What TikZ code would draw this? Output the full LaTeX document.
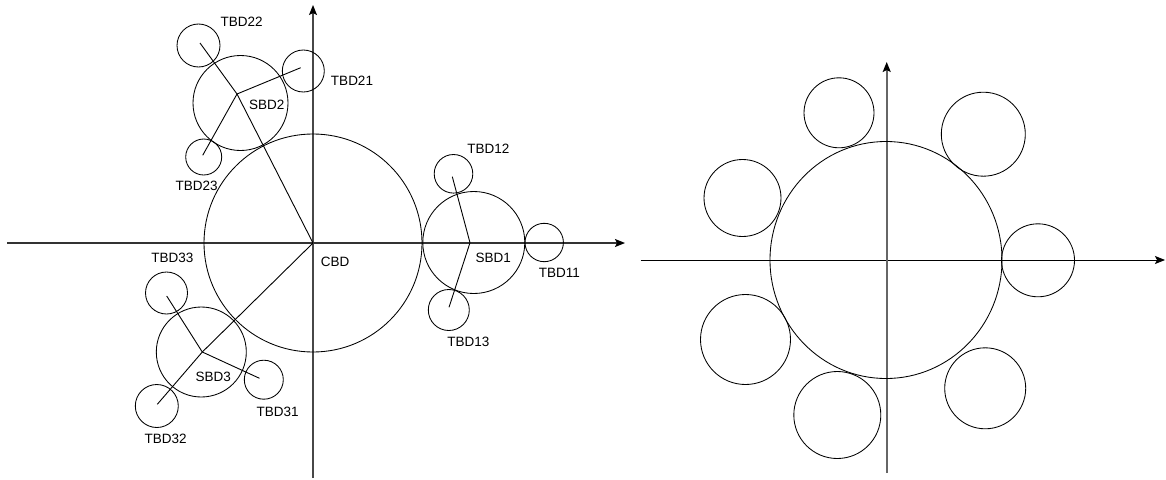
\documentclass[tikz,border=0pt]{standalone}
\usepackage{fontspec}
\setmainfont{Liberation Sans}
\usetikzlibrary{arrows.meta}
\begin{document}
\begin{tikzpicture}[x=1pt,y=-1pt,
  axis/.style={draw=black!72,line width=1.3pt,-{Stealth[length=10pt,width=8pt,inset=2pt,color=black]}},
  ring/.style={draw=black,line width=0.85pt},
  link/.style={draw=black,line width=0.9pt},
  lbl/.style={font=\fontsize{13.5}{15}\selectfont,inner sep=0pt}]
\useasboundingbox (0,0) rectangle (1166,479);
% ---------- left diagram ----------
\coordinate (ho) at (7,243);
\coordinate (he) at (625,243);
\coordinate (vo) at (313,478);
\coordinate (ve) at (313,5);
\draw[axis,draw=black!80] (ho) -- (he);
\draw[axis] (vo) -- (ve);
% centres / junctions
\coordinate (cbd) at (313,243);
\coordinate (sbdtwo) at (237,94);
\coordinate (tbdtt) at (200,43);
\coordinate (tbdto) at (300.7,67.7);
\coordinate (tbdtr) at (202.7,155.3);
\coordinate (sbdthree) at (202.3,352);
\coordinate (tbdrt) at (157.3,404.3);
\coordinate (tbdrr) at (166.7,296);
\coordinate (tbdro) at (259.5,378.3);
\coordinate (sbdone) at (470,242.7);
\coordinate (tbdot) at (452.3,176.7);
\coordinate (tbdor) at (449,307.3);
% circles
\draw[ring] (313,243) circle[radius=109];
\draw[ring] (240.5,103) circle[radius=47.5];
\draw[ring] (198.5,45.5) circle[radius=21.5];
\draw[ring] (303.3,71) circle[radius=21];
\draw[ring] (203.7,157) circle[radius=18];
\draw[ring] (201.3,352) circle[radius=45];
\draw[ring] (166.5,293) circle[radius=21];
\draw[ring] (263.8,379.7) circle[radius=19.5];
\draw[ring] (156.8,406) circle[radius=21.5];
\draw[ring] (473.8,242.5) circle[radius=51];
\draw[ring] (453.5,173.8) circle[radius=19.3];
\draw[ring] (448.8,310) circle[radius=20.5];
\draw[ring] (544.2,242.5) circle[radius=19.2];
% links
\draw[link] (cbd) -- (sbdtwo) -- (tbdtt);
\draw[link] (sbdtwo) -- (tbdto);
\draw[link] (sbdtwo) -- (tbdtr);
\draw[link] (cbd) -- (sbdthree) -- (tbdrt);
\draw[link] (sbdthree) -- (tbdrr);
\draw[link] (sbdthree) -- (tbdro);
\draw[link] (sbdone) -- (tbdot);
\draw[link] (sbdone) -- (tbdor);
% labels
\node[lbl] (lcbd) at (335,262) {CBD};
\node[lbl] (ltbd22) at (241.7,22) {TBD22};
\node[lbl] (ltbd21) at (352,81) {TBD21};
\node[lbl] (lsbd2) at (266.7,105) {SBD2};
\node[lbl] (ltbd23) at (196.7,185.7) {TBD23};
\node[lbl] (ltbd33) at (172.3,258.3) {TBD33};
\node[lbl] (lsbd3) at (213.3,376.7) {SBD3};
\node[lbl] (ltbd31) at (277.7,411.7) {TBD31};
\node[lbl] (ltbd32) at (165.7,439) {TBD32};
\node[lbl] (ltbd12) at (488.3,149) {TBD12};
\node[lbl] (lsbd1) at (493.3,257.7) {SBD1};
\node[lbl] (ltbd11) at (559.3,273.3) {TBD11};
\node[lbl] (ltbd13) at (468.3,341.7) {TBD13};
% ---------- right diagram ----------
\coordinate (rho) at (640.7,260);
\coordinate (rhe) at (1165,260);
\coordinate (rvo) at (886.7,473);
\coordinate (rve) at (886.7,62);
\draw[axis,draw=black,line width=1pt] (rho) -- (rhe);
\draw[axis,draw=black!60,line width=1.6pt] (rvo) -- (rve);
\draw[ring] (886,260) circle[x radius=116, y radius=118.5];
\draw[ring] (839,112.8) circle[radius=35];
\draw[ring] (983.3,134.2) circle[radius=42];
\draw[ring] (742.5,198) circle[radius=38.5];
\draw[ring] (1038,260.3) circle[radius=36.5];
\draw[ring] (745.5,339.5) circle[radius=45];
\draw[ring] (837.3,415) circle[radius=43.5];
\draw[ring] (985.2,388.3) circle[radius=40.5];
\end{tikzpicture}
\end{document}
